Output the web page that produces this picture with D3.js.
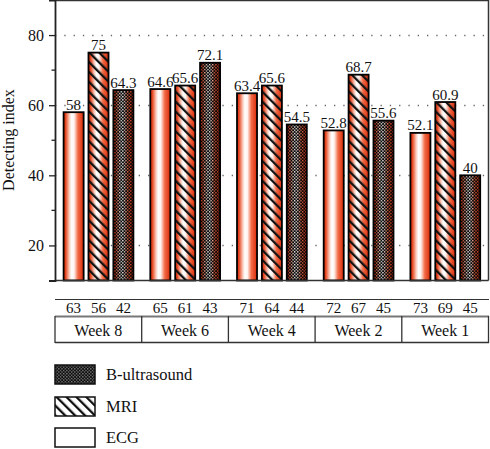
<!DOCTYPE html>
<html>
<head>
<meta charset="utf-8">
<script src="https://cdn.jsdelivr.net/npm/d3@7"></script>
<style>
  html, body { margin: 0; padding: 0; background: #fff; }
  svg { display: block; }
  svg text { font-family: "Liberation Serif", "DejaVu Serif", serif; }
</style>
</head>
<body>
<svg id="chart" width="490" height="449"></svg>
<script>
const categories = ["Week 8", "Week 6", "Week 4", "Week 2", "Week 1"];
const series = ["ECG", "MRI", "B-ultrasound"];
const ecgValues = [58, 64.6, 63.4, 52.8, 52.1];
const mriValues = [75, 65.6, 65.6, 68.7, 60.9];
const bValues = [64.3, 72.1, 54.5, 55.6, 40];
const ecgCounts = [63, 65, 71, 72, 73];
const mriCounts = [56, 61, 64, 67, 69];
const bCounts = [42, 43, 44, 45, 45];
const yTicks = [20, 40, 60, 80];
const yMinorTicks = [30, 50, 70];
const legendOrder = ["B-ultrasound", "MRI", "ECG"];

const valuesBySeries = { "ECG": ecgValues, "MRI": mriValues, "B-ultrasound": bValues };
const countsBySeries = { "ECG": ecgCounts, "MRI": mriCounts, "B-ultrasound": bCounts };

const FONT = "Liberation Serif, DejaVu Serif, serif";
const svg = d3.select("#chart");
const mLeft = 55, mRight = 488.5, mTop = 0, mBottom = 280.5;

const x = d3.scaleBand().domain(categories).range([mLeft, mRight]);
const xInner = d3.scaleBand().domain(series)
  .range([8.6, 78.4]).paddingInner(0.195).paddingOuter(0);
const y = d3.scaleLinear().domain([10, 90]).range([mBottom, mTop]);

const defs = svg.append("defs");
const grad = defs.append("linearGradient").attr("id", "redgrad")
  .attr("x1", "0%").attr("x2", "100%").attr("y1", "0%").attr("y2", "0%");
[["0%", "#d82a08"], ["10%", "#e6461f"], ["30%", "#fbd2c4"], ["40%", "#ffffff"],
 ["52%", "#fff4f0"], ["72%", "#f26a45"], ["100%", "#d82a08"]].forEach(s =>
  grad.append("stop").attr("offset", s[0]).attr("stop-color", s[1]));

// diagonal stripes "\"
const stripe = defs.append("pattern").attr("id", "stripes")
  .attr("patternUnits", "userSpaceOnUse").attr("width", 7).attr("height", 7)
  .attr("patternTransform", "rotate(-45)");
stripe.append("rect").attr("x", 0).attr("y", 0).attr("width", 2.3).attr("height", 7).attr("fill", "#111");

// dot pattern (checker of small squares) used as a mask
const dots = defs.append("pattern").attr("id", "dots")
  .attr("patternUnits", "userSpaceOnUse").attr("width", 3.2).attr("height", 3.2);
dots.append("rect").attr("width", 3.2).attr("height", 3.2).attr("fill", "#000");
dots.append("rect").attr("x", 0).attr("y", 0).attr("width", 1.3).attr("height", 1.3).attr("fill", "#fff");
dots.append("rect").attr("x", 1.6).attr("y", 1.6).attr("width", 1.3).attr("height", 1.3).attr("fill", "#fff");
const mask = defs.append("mask").attr("id", "dotmask")
  .attr("maskUnits", "userSpaceOnUse").attr("x", 0).attr("y", 0).attr("width", 490).attr("height", 449);
mask.append("rect").attr("width", 490).attr("height", 449).attr("fill", "url(#dots)");

const dotsGray = defs.append("pattern").attr("id", "dotsgray")
  .attr("patternUnits", "userSpaceOnUse").attr("width", 3.2).attr("height", 3.2);
dotsGray.append("rect").attr("width", 3.2).attr("height", 3.2).attr("fill", "#0a0a0a");
dotsGray.append("rect").attr("x", 0).attr("y", 0).attr("width", 1.3).attr("height", 1.3).attr("fill", "#888");
dotsGray.append("rect").attr("x", 1.6).attr("y", 1.6).attr("width", 1.3).attr("height", 1.3).attr("fill", "#888");

// gridlines
svg.append("g").selectAll("line").data(yTicks).join("line")
  .attr("x1", mLeft).attr("x2", mRight)
  .attr("y1", d => Math.round(y(d)) + 0.5).attr("y2", d => Math.round(y(d)) + 0.5)
  .attr("stroke", "#666").attr("stroke-width", 1.3).attr("stroke-dasharray", "1.3,8");

// bars
const groups = svg.append("g").selectAll("g").data(categories).join("g")
  .attr("transform", d => `translate(${x(d)},0)`);

series.forEach(s => {
  const g = groups.append("g");
  const bx = xInner(s), bw = xInner.bandwidth();
  const yy = (d, i) => y(valuesBySeries[s][i]);
  const hh = (d, i) => mBottom - y(valuesBySeries[s][i]);
  if (s === "B-ultrasound") {
    g.append("rect").attr("x", bx).attr("width", bw).attr("y", yy).attr("height", hh)
      .attr("fill", "#080808");
    g.append("rect").attr("x", bx).attr("width", bw).attr("y", yy).attr("height", hh)
      .attr("fill", "url(#redgrad)").attr("mask", "url(#dotmask)");
  } else {
    g.append("rect").attr("x", bx).attr("width", bw).attr("y", yy).attr("height", hh)
      .attr("fill", "url(#redgrad)");
    if (s === "MRI") {
      g.append("rect").attr("x", bx).attr("width", bw).attr("y", yy).attr("height", hh)
        .attr("fill", "url(#stripes)");
    }
  }
  g.append("rect").attr("x", bx).attr("width", bw).attr("y", yy).attr("height", hh)
    .attr("fill", "none").attr("stroke", "#000").attr("stroke-width", 1.8);
  g.append("text")
    .attr("x", bx + bw / 2)
    .attr("y", (d, i) => y(valuesBySeries[s][i]) - 2.5)
    .attr("text-anchor", "middle").attr("font-size", 15).attr("font-family", FONT).attr("fill", "#111")
    .text((d, i) => valuesBySeries[s][i]);
  g.append("text")
    .attr("x", bx + bw / 2).attr("y", 313)
    .attr("text-anchor", "middle").attr("font-size", 15).attr("font-family", FONT).attr("fill", "#111")
    .text((d, i) => countsBySeries[s][i]);
});

// frame
svg.append("line").attr("x1", mLeft).attr("x2", 489).attr("y1", 0.5).attr("y2", 0.5)
  .attr("stroke", "#333").attr("stroke-width", 1.5);
svg.append("line").attr("x1", mRight).attr("x2", mRight).attr("y1", 0).attr("y2", mBottom)
  .attr("stroke", "#333").attr("stroke-width", 1.5);
svg.append("line").attr("x1", mLeft).attr("x2", mRight).attr("y1", mBottom).attr("y2", mBottom)
  .attr("stroke", "#333").attr("stroke-width", 1.5);

// y axis
const yAxis = svg.append("g").attr("transform", `translate(${mLeft},0)`)
  .call(d3.axisLeft(y).tickValues(yTicks).tickSize(6).tickPadding(5));
yAxis.attr("font-family", FONT);
yAxis.select(".domain").attr("stroke", "#222").attr("stroke-width", 1.8);
yAxis.selectAll(".tick line").attr("stroke", "#222").attr("stroke-width", 1.3);
yAxis.selectAll(".tick text").attr("font-size", 16).attr("fill", "#111")
  .attr("font-family", FONT);
svg.append("g").selectAll("line").data(yMinorTicks).join("line")
  .attr("x1", mLeft - 3.5).attr("x2", mLeft)
  .attr("y1", d => y(d)).attr("y2", d => y(d))
  .attr("stroke", "#222").attr("stroke-width", 1.3);

svg.append("text")
  .attr("transform", "translate(14,140) rotate(-90)")
  .attr("text-anchor", "middle").attr("font-size", 16).attr("font-family", FONT).attr("fill", "#111")
  .text("Detecting index");

// table
svg.append("line").attr("x1", mLeft).attr("x2", 489).attr("y1", 299.5).attr("y2", 299.5)
  .attr("stroke", "#333").attr("stroke-width", 1.2);
svg.append("line").attr("x1", mLeft).attr("x2", 489).attr("y1", 316.5).attr("y2", 316.5)
  .attr("stroke", "#777").attr("stroke-width", 2);
svg.append("line").attr("x1", mLeft).attr("x2", 489).attr("y1", 342.5).attr("y2", 342.5)
  .attr("stroke", "#333").attr("stroke-width", 1.5);
const dividers = [mLeft].concat(categories.map(c => x(c) + x.bandwidth()));
svg.append("g").selectAll("line").data(dividers).join("line")
  .attr("x1", d => Math.min(d, 488.5)).attr("x2", d => Math.min(d, 488.5))
  .attr("y1", 316).attr("y2", 343)
  .attr("stroke", "#333").attr("stroke-width", 1.3);
svg.append("g").selectAll("text").data(categories).join("text")
  .attr("x", d => x(d) + x.bandwidth() / 2).attr("y", 336)
  .attr("text-anchor", "middle").attr("font-size", 16).attr("font-family", FONT).attr("fill", "#111")
  .text(d => d);

// legend
const legendY = [365, 397, 428];
const lg = svg.append("g").selectAll("g").data(legendOrder).join("g")
  .attr("transform", (d, i) => `translate(55,${legendY[i]})`);
lg.append("rect").attr("width", 40).attr("height", 19)
  .attr("fill", d => d === "B-ultrasound" ? "url(#dotsgray)" : "#fff");
lg.filter(d => d === "MRI").append("rect").attr("width", 40).attr("height", 19)
  .attr("fill", "url(#stripes)");
lg.append("rect").attr("width", 40).attr("height", 19)
  .attr("fill", "none").attr("stroke", "#111").attr("stroke-width", 1.5);
lg.append("text").attr("x", 51).attr("y", 15).attr("font-size", 16.5).attr("font-family", FONT).attr("fill", "#111")
  .text(d => d);
</script>
</body>
</html>
